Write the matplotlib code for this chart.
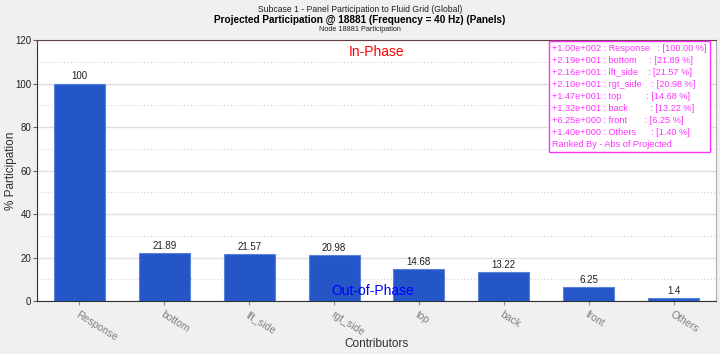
import matplotlib.pyplot as plt
import numpy as np

plt.rcParams['font.family'] = ['Liberation Sans', 'DejaVu Sans']

contributors = ['Response', 'bottom', 'lft_side', 'rgt_side', 'top', 'back', 'front', 'Others']
participation = [100.0, 21.89, 21.57, 20.98, 14.68, 13.22, 6.25, 1.4]
projected = ['+1.00e+002', '+2.19e+001', '+2.16e+001', '+2.10e+001',
             '+1.47e+001', '+1.32e+001', '+6.25e+000', '+1.40e+000']
pct_text = ['100.00', '21.89', '21.57', '20.98', '14.68', '13.22', '6.25', '1.40']

fig = plt.figure(figsize=(7.2, 3.54), dpi=100, facecolor='#f0f0f0')
ax = fig.add_axes([0.0514, 0.1497, 0.9430, 0.7373])
ax.set_facecolor('white')

index = np.arange(len(contributors))
bars = ax.bar(index, participation, 0.6, color='#2456c8', edgecolor='#5a82dc', linewidth=0.8, zorder=3)

for x, v in zip(index, participation):
    lbl = '%g' % v
    ax.text(x, v + 1.0, lbl, ha='center', va='bottom', fontsize=7, color='#202020', zorder=4)

ax.set_xlim(-0.5, 7.5)
ax.set_ylim(0, 120)
ax.set_yticks(np.arange(0, 121, 20))
ax.set_yticks(np.arange(10, 120, 20), minor=True)
ax.grid(which='major', axis='y', color='#e0e0e0', linewidth=1.0, zorder=0)
ax.grid(which='minor', axis='y', color='#d0d0d0', linewidth=0.8, linestyle=(0, (1, 2)), zorder=0)
ax.tick_params(axis='y', which='minor', length=0)
ax.tick_params(axis='y', which='major', labelsize=7, length=3, color='#606060', labelcolor='#202020', pad=1)
ax.set_xticks(index)
ax.set_xticklabels(contributors, rotation=-32, ha='left', va='top', rotation_mode='anchor',
                   fontsize=7.5, color='#808080')
ax.tick_params(axis='x', length=3, color='#909090', pad=3)

for s in ['left', 'bottom']:
    ax.spines[s].set_color('#303030')
ax.spines['top'].set_color('#604040')
ax.spines['right'].set_color('#b0b0b0')

ax.set_ylabel('% Participation', fontsize=8.5, color='#303030')
ax.yaxis.set_label_coords(-0.029, 0.5)
ax.set_xlabel('Contributors', fontsize=8.5, color='#303030')
ax.xaxis.set_label_coords(0.5, -0.14)

ax.text(0.50, 0.955, 'In-Phase', transform=ax.transAxes, ha='center', va='center',
        fontsize=10, color='#ff0000', zorder=5)
ax.text(0.495, 0.04, 'Out-of-Phase', transform=ax.transAxes, ha='center', va='center',
        fontsize=10, color='#0000ff', zorder=5)

fig.text(0.5, 0.973, 'Subcase 1 - Panel Participation to Fluid Grid (Global)',
         ha='center', va='center', fontsize=6.2, color='#202020')
fig.text(0.5, 0.945, 'Projected Participation @ 18881 (Frequency = 40 Hz) (Panels)',
         ha='center', va='center', fontsize=7.2, fontweight='bold', color='#000000')
fig.text(0.5, 0.917, 'Node 18881 Participation',
         ha='center', va='center', fontsize=5.2, color='#202020')

names_pad = ['Response   ', 'bottom     ', 'lft_side    ', 'rgt_side    ',
             'top          ', 'back         ', 'front       ', 'Others      ']
lines = ['%s : %s: [%s %%]' % (p, n, t) for p, n, t in zip(projected, names_pad, pct_text)]
lines.append('Ranked By - Abs of Projected')
ax.text(0.7585, 0.984, '\n'.join(lines), transform=ax.transAxes, ha='left', va='top',
        fontsize=6.6, color='#ff33ff', linespacing=1.42, zorder=6,
        bbox=dict(boxstyle='square,pad=0.35', facecolor='white', edgecolor='#ff33ff', linewidth=1.0))

fig.savefig('out.png', dpi=100, facecolor=fig.get_facecolor())
